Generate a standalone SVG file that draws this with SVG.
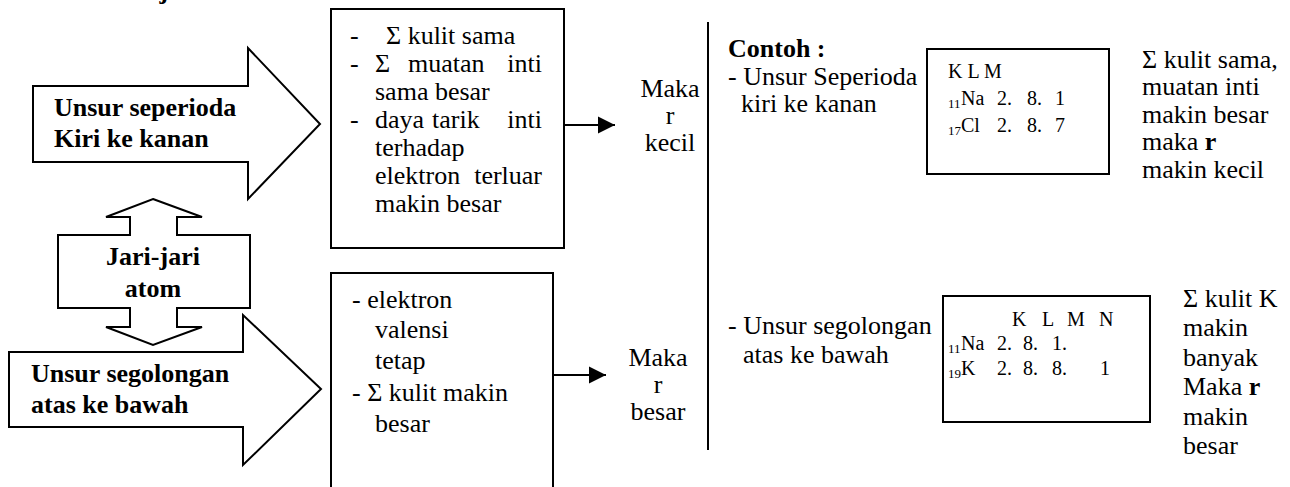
<svg xmlns="http://www.w3.org/2000/svg" width="1290" height="487" viewBox="0 0 1290 487">
  <style>
    .t { font-family: "Liberation Serif", "Times New Roman", serif; font-size: 26px; fill: #000; }
    .b { font-weight: bold; }
    .s { font-size: 20px; }
    .sub { font-size: 13px; }
    .c { text-anchor: middle; }
    .e { text-anchor: end; }
    .shape { fill: #fff; stroke: #000; stroke-width: 2; stroke-linejoin: miter; }
    .line { stroke: #000; stroke-width: 2; fill: none; }
  </style>
  <defs>
    <marker id="headL" viewBox="0 0 10 10" refX="10" refY="5" markerWidth="17" markerHeight="18" markerUnits="userSpaceOnUse" orient="auto">
      <path d="M0,0 L10,5 L0,10 z" fill="#000"/>
    </marker>
  </defs>

  <!-- heading, cut at the top edge -->
  <text class="t b" x="80" y="-1">2.  Jari-jari atom</text>

  <!-- block arrow: across a period -->
  <g id="node-periode">
    <polygon class="shape" points="33,86 248,86 248,48 320,124 248,199 248,162 33,162"/>
    <text class="t b" x="54" y="116">Unsur seperioda</text>
    <text class="t b" x="54" y="147">Kiri ke kanan</text>
  </g>

  <!-- double-headed block arrow: atomic radius -->
  <g id="node-jari">
    <polygon class="shape" points="153,199 202,217 177,217 177,235 250,235 250,308 177,308 177,327 202,327 153,345 106,327 130,327 130,308 58,308 58,235 130,235 130,217 106,217"/>
    <text class="t b c" x="153" y="265">Jari-jari</text>
    <text class="t b c" x="153" y="297">atom</text>
  </g>

  <!-- block arrow: down a group -->
  <g id="node-golongan">
    <polygon class="shape" points="9,352 243,352 243,315 321,389 243,465 243,427 9,427"/>
    <text class="t b" x="31" y="382">Unsur segolongan</text>
    <text class="t b" x="31" y="413">atas ke bawah</text>
  </g>

  <!-- reasons, period (justified lines are placed word by word) -->
  <g id="node-alasan-periode">
    <rect class="shape" x="331" y="9" width="233" height="239"/>
    <text class="t" x="350" y="44">-</text>
    <text class="t" x="386" y="44">Σ kulit sama</text>
    <text class="t" x="350" y="72">-</text>
    <text class="t" x="375" y="72">Σ</text>
    <text class="t" x="408" y="72">muatan</text>
    <text class="t e" x="542" y="72">inti</text>
    <text class="t" x="375" y="100">sama besar</text>
    <text class="t" x="350" y="128">-</text>
    <text class="t" x="375" y="128">daya</text>
    <text class="t" x="432" y="128">tarik</text>
    <text class="t e" x="542" y="128">inti</text>
    <text class="t" x="375" y="156">terhadap</text>
    <text class="t" x="375" y="184">elektron</text>
    <text class="t e" x="542" y="184">terluar</text>
    <text class="t" x="375" y="212">makin besar</text>
  </g>

  <!-- reasons, group -->
  <g id="node-alasan-golongan">
    <rect class="shape" x="331" y="273" width="222" height="230"/>
    <text class="t" x="352" y="308">- elektron</text>
    <text class="t" x="375" y="338">valensi</text>
    <text class="t" x="375" y="369">tetap</text>
    <text class="t" x="352" y="401">- Σ kulit makin</text>
    <text class="t" x="375" y="432">besar</text>
  </g>

  <!-- results -->
  <g id="node-hasil-kecil">
    <text class="t c" x="670" y="97">Maka</text>
    <text class="t c" x="670" y="124">r</text>
    <text class="t c" x="670" y="151">kecil</text>
  </g>
  <g id="node-hasil-besar">
    <text class="t c" x="658" y="366">Maka</text>
    <text class="t c" x="658" y="393">r</text>
    <text class="t c" x="658" y="420">besar</text>
  </g>

  <!-- examples -->
  <g id="node-contoh">
    <text class="t b" x="728" y="57">Contoh :</text>
    <text class="t" x="728" y="85">- Unsur Seperioda</text>
    <text class="t" x="741" y="112">kiri ke kanan</text>
    <text class="t" x="728" y="334">- Unsur segolongan</text>
    <text class="t" x="743" y="363">atas ke bawah</text>
  </g>

  <g id="node-konfig-periode">
    <rect class="shape" x="927" y="49" width="182" height="125"/>
    <text class="t s" x="948" y="78">K L M</text>
    <text class="t sub" x="948" y="108">11</text>
    <text class="t s" x="961" y="105">Na</text>
    <text class="t s" x="997" y="105">2.</text>
    <text class="t s" x="1027" y="105">8.</text>
    <text class="t s" x="1055" y="105">1</text>
    <text class="t sub" x="948" y="135">17</text>
    <text class="t s" x="961" y="132">Cl</text>
    <text class="t s" x="997" y="132">2.</text>
    <text class="t s" x="1027" y="132">8.</text>
    <text class="t s" x="1055" y="132">7</text>
  </g>

  <g id="node-ket-periode">
    <text class="t" x="1142" y="68">Σ kulit sama,</text>
    <text class="t" x="1142" y="95">muatan inti</text>
    <text class="t" x="1142" y="123">makin besar</text>
    <text class="t" x="1142" y="150">maka <tspan class="b">r</tspan></text>
    <text class="t" x="1142" y="178">makin kecil</text>
  </g>

  <g id="node-konfig-golongan">
    <rect class="shape" x="943" y="296" width="207" height="126"/>
    <text class="t s" x="1012" y="326">K</text>
    <text class="t s" x="1042" y="326">L</text>
    <text class="t s" x="1067" y="326">M</text>
    <text class="t s" x="1099" y="326">N</text>
    <text class="t sub" x="948" y="353">11</text>
    <text class="t s" x="961" y="350">Na</text>
    <text class="t s" x="997" y="350">2.</text>
    <text class="t s" x="1023" y="350">8.</text>
    <text class="t s" x="1052" y="350">1.</text>
    <text class="t sub" x="948" y="378">19</text>
    <text class="t s" x="961" y="375">K</text>
    <text class="t s" x="997" y="375">2.</text>
    <text class="t s" x="1023" y="375">8.</text>
    <text class="t s" x="1052" y="375">8.</text>
    <text class="t s" x="1100" y="375">1</text>
  </g>

  <g id="node-ket-golongan">
    <text class="t" x="1183" y="307">Σ kulit K</text>
    <text class="t" x="1183" y="336">makin</text>
    <text class="t" x="1183" y="366">banyak</text>
    <text class="t" x="1183" y="395">Maka <tspan class="b">r</tspan></text>
    <text class="t" x="1183" y="425">makin</text>
    <text class="t" x="1183" y="454">besar</text>
  </g>

  <!-- connectors -->
  <g id="connectors">
    <line class="line" x1="564" y1="125" x2="615" y2="125" marker-end="url(#headL)"/>
    <line class="line" x1="553" y1="375" x2="606" y2="375" marker-end="url(#headL)"/>
    <line class="line" x1="708" y1="22" x2="708" y2="450"/>
  </g>
</svg>
